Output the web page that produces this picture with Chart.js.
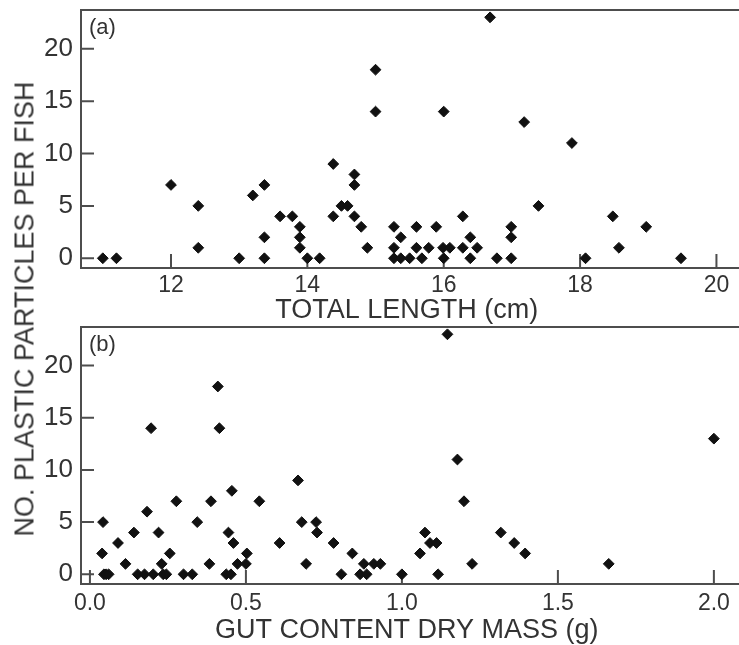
<!DOCTYPE html>
<html>
<head>
<meta charset="utf-8">
<script src="https://cdn.jsdelivr.net/npm/chart.js@4.4.0/dist/chart.umd.min.js"></script>
<style>
  html, body { margin: 0; padding: 0; background: #fff; }
  #wrap { position: relative; width: 739px; height: 645px; overflow: hidden; }
  #chartA { position: absolute; left: 0; top: 0; }
  #chartB { position: absolute; left: 0; top: 320px; }
  #ytitle {
    position: absolute; left: 24.5px; top: 309px;
    transform: translate(-50%, -50%) rotate(-90deg);
    font: 27px "Liberation Sans", Arial, sans-serif; color: #333; white-space: nowrap;
  }
</style>
</head>
<body>
<div id="wrap">
  <canvas id="chartA" width="739" height="327" style="width:739px;height:327px"></canvas>
  <canvas id="chartB" width="739" height="325" style="width:739px;height:325px"></canvas>
  <div id="ytitle">NO. PLASTIC PARTICLES PER FISH</div>
</div>
<script>
// (a) total length vs particles
const lengthCm = [11.0, 11.2, 12.0, 12.4, 12.4, 13.0, 13.2, 13.37, 13.37, 13.37, 13.6, 13.78, 13.89, 13.89, 13.89,
  14.0, 14.18, 14.38, 14.38, 14.5, 14.59, 14.69, 14.69, 14.69, 14.79, 14.88, 15.0, 15.0, 15.27, 15.27, 15.27,
  15.37, 15.37, 15.5, 15.6, 15.6, 15.68, 15.78, 15.89, 15.99, 16.0, 16.0, 16.09, 16.28, 16.28, 16.39, 16.39,
  16.49, 16.68, 16.78, 16.99, 16.99, 16.99, 17.18, 17.39, 17.88, 18.08, 18.48, 18.57, 18.97, 19.48]
const particlesA = [0, 0, 7, 5, 1, 0, 6, 7, 2, 0, 4, 4, 3, 2, 1,
  0, 0, 9, 4, 5, 5, 8, 7, 4, 3, 1, 18, 14, 3, 1, 0,
  2, 0, 0, 3, 1, 0, 1, 3, 1, 0, 14, 1, 4, 1, 2, 0,
  1, 23, 0, 3, 2, 0, 13, 5, 11, 0, 4, 1, 3, 0]

// (b) gut content dry mass vs particles
const gutMass = [0.042, 0.039, 0.045, 0.052, 0.06, 0.09, 0.114, 0.141, 0.153, 0.175, 0.183, 0.196, 0.203,
  0.22, 0.23, 0.235, 0.245, 0.256, 0.277, 0.30, 0.328, 0.344, 0.383, 0.388, 0.41, 0.415, 0.437, 0.452,
  0.455, 0.444, 0.46, 0.473, 0.5, 0.503, 0.543, 0.608, 0.667, 0.679, 0.693, 0.725, 0.728, 0.781, 0.806,
  0.841, 0.866, 0.887, 0.878, 0.91, 0.931, 1.0, 1.058, 1.074, 1.09, 1.111, 1.116, 1.146, 1.178, 1.199,
  1.225, 1.317, 1.36, 1.395, 1.663, 2.0]
const particlesB = [5, 2, 0, 0, 0, 3, 1, 4, 0, 0, 6, 14, 0,
  4, 1, 0, 0, 2, 7, 0, 0, 5, 1, 7, 18, 14, 0, 0,
  8, 4, 3, 1, 1, 2, 7, 3, 9, 5, 1, 5, 4, 3, 0,
  2, 0, 0, 1, 1, 1, 0, 2, 4, 3, 3, 0, 23, 11, 7,
  1, 4, 3, 2, 1, 13]

const lengthTicks = [12, 14, 16, 18, 20]
const massTicks = [0, 0.5, 1, 1.5, 2]
const countTicks = [0, 5, 10, 15, 20]

const FONT = '"Liberation Sans", Arial, sans-serif'
const TEXT = '#333'

// open frame (right side runs off the page), inward ticks and panel letter
const framePlugin = {
  id: 'frame',
  beforeDatasetsDraw(chart, args, opts) {
    const { ctx, chartArea: a, scales } = chart
    ctx.save()
    ctx.strokeStyle = '#4d4d4d'
    ctx.lineWidth = 2
    ctx.beginPath()
    ctx.moveTo(chart.width, a.top)
    ctx.lineTo(a.left, a.top)
    ctx.lineTo(a.left, a.bottom)
    ctx.lineTo(chart.width, a.bottom)
    scales.x.ticks.forEach(t => {
      const px = scales.x.getPixelForValue(t.value)
      ctx.moveTo(px, a.bottom)
      ctx.lineTo(px, a.bottom - 14)
    })
    scales.y.ticks.forEach(t => {
      const py = scales.y.getPixelForValue(t.value)
      ctx.moveTo(a.left, py)
      ctx.lineTo(a.left + 13, py)
    })
    ctx.stroke()
    ctx.fillStyle = TEXT
    ctx.font = '22px ' + FONT
    ctx.textBaseline = 'middle'
    ctx.fillText(opts.label, a.left + 8, a.top + 18)
    ctx.restore()
  }
}

// no extra room for label overhang, the box is fixed
function noPad(s) {
  s.paddingTop = 0
  s.paddingBottom = 0
  s.paddingLeft = 0
  s.paddingRight = 0
}

function makeChart(id, xs, ys, opt) {
  const points = xs.map((x, i) => ({ x: x, y: ys[i] }))
  return new Chart(document.getElementById(id), {
    type: 'scatter',
    data: {
      datasets: [{
        data: points,
        pointStyle: 'rectRot',
        pointRadius: 5.4,
        pointBorderWidth: 1,
        backgroundColor: '#111',
        borderColor: '#111'
      }]
    },
    plugins: [framePlugin],
    options: {
      responsive: false,
      animation: false,
      layout: { padding: { top: opt.padTop, right: 0, left: 0, bottom: 0 } },
      plugins: {
        legend: { display: false },
        tooltip: { enabled: false },
        frame: { label: opt.label }
      },
      scales: {
        x: {
          type: 'linear',
          min: opt.xMin,
          max: opt.xMax,
          grid: { display: false, drawTicks: false },
          border: { display: false },
          afterBuildTicks: s => { s.ticks = opt.xTicks.map(v => ({ value: v })) },
          afterFit: s => { s.height = opt.xHeight; noPad(s) },
          ticks: {
            padding: opt.tickPad,
            color: TEXT,
            font: { family: FONT, size: 23, lineHeight: 1 },
            callback: v => opt.xFmt(v)
          },
          title: {
            display: true,
            text: opt.xTitle,
            color: TEXT,
            padding: { top: 0, bottom: opt.titlePad },
            font: { family: FONT, size: 27, lineHeight: 1 }
          }
        },
        y: {
          type: 'linear',
          min: -0.93,
          max: 23.7,
          grid: { display: false, drawTicks: false },
          border: { display: false },
          afterBuildTicks: s => { s.ticks = countTicks.map(v => ({ value: v })) },
          afterFit: s => { s.width = 81; noPad(s) },
          ticks: {
            padding: 8,
            color: TEXT,
            font: { family: FONT, size: 26, lineHeight: 1 }
          }
        }
      }
    }
  })
}

makeChart('chartA', lengthCm, particlesA, {
  label: '(a)', padTop: 10, xMin: 10.68, xMax: 20.237, xTicks: lengthTicks,
  xHeight: 59, tickPad: 6, titlePad: 2.5, xTitle: 'TOTAL LENGTH (cm)',
  xFmt: v => String(v)
})

makeChart('chartB', gutMass, particlesB, {
  label: '(b)', padTop: 7, xMin: -0.0286, xMax: 2.06, xTicks: massTicks,
  xHeight: 61, tickPad: 8, titlePad: 0.5, xTitle: 'GUT CONTENT DRY MASS (g)',
  xFmt: v => v.toFixed(1)
})
</script>
</body>
</html>
